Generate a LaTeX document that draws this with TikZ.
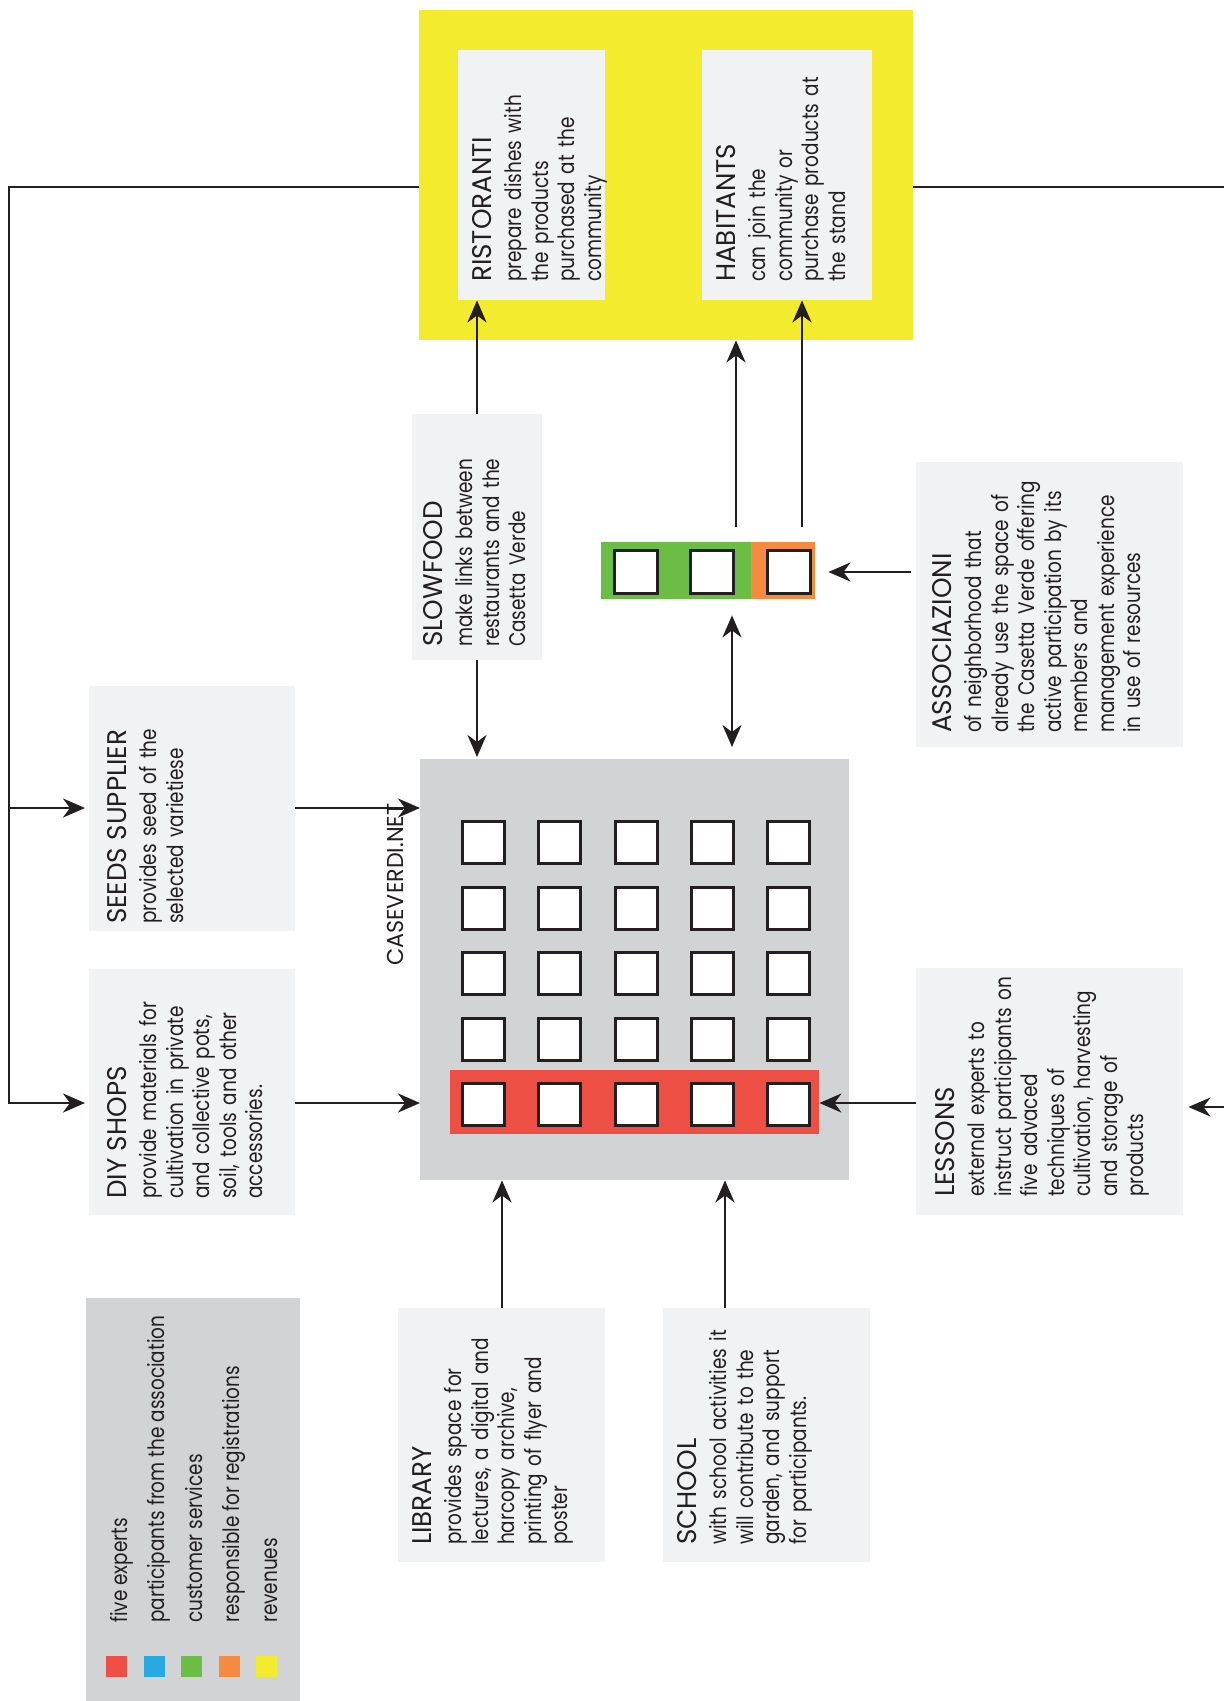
\documentclass[tikz,border=0pt]{standalone}
\usepackage{fontspec}
\setmainfont{Poppins}[FakeStretch=0.82]
\newfontfamily\headfam{Poppins}[FakeStretch=0.97]
\usetikzlibrary{arrows.meta}

\definecolor{panel}{HTML}{F1F2F3}
\definecolor{hubgrey}{HTML}{D1D3D4}
\definecolor{revyellow}{HTML}{F3EB2E}
\definecolor{expred}{HTML}{EE4F45}
\definecolor{assblue}{HTML}{27AAE1}
\definecolor{custgreen}{HTML}{6CBD45}
\definecolor{regorange}{HTML}{F58B3F}
\definecolor{ink}{HTML}{231F20}

\newcommand\hdfont{\headfam\fontsize{27}{30}\selectfont}
\newcommand\bdfont{\fontsize{22.5}{26.5}\selectfont}

\tikzset{
  area/.style={fill=#1, draw=none, inner sep=0pt, anchor=north west},
  panelbox/.style={area=panel},
  label/.style={rotate=90, anchor=north west, align=left, inner sep=0pt,
    text width=#1, font=\bdfont, text=ink},
  label/.default=300pt,
  cell/.style={draw=ink, line width=3pt, fill=white, inner sep=0pt,
    minimum width=40pt, minimum height=40pt, anchor=north west},
  swatch/.style={fill=#1, draw=none, inner sep=0pt, minimum width=21pt,
    minimum height=21pt, anchor=north west},
  arr/.style={draw=ink, line width=2.6pt,
    -{Stealth[length=22pt, width=19pt, inset=7pt]}},
  biarr/.style={draw=ink, line width=2.6pt,
    {Stealth[length=22pt, width=19pt, inset=7pt]}-{Stealth[length=22pt, width=19pt, inset=7pt]}},
  wire/.style={draw=ink, line width=2.6pt},
}

\begin{document}
\begin{tikzpicture}[x=1pt, y=1pt]
\fill[white] (0,0) rectangle (1224,-1701);
\useasboundingbox (0,0) rectangle (1224,-1701);

% ---- revenue block with restaurants and inhabitants
\node[area=revyellow, minimum width=494pt, minimum height=330pt] (yellow) at (419,-10) {};
\node[panelbox, minimum width=147pt, minimum height=250pt] (rist) at (458,-50) {};
\node[label] (ristT) at (472,-282) {{\hdfont RISTORANTI}\\[4pt]prepare dishes with\\the products\\purchased at the\\community};
\node[panelbox, minimum width=170pt, minimum height=250pt] (hab) at (702,-50) {};
\node[label] (habT) at (716,-282) {{\hdfont HABITANTS}\\[4pt]can join the\\community or\\purchase products at\\the stand};

% ---- slow food
\node[panelbox, minimum width=130pt, minimum height=246pt] (slow) at (412,-414) {};
\node[label] (slowT) at (423,-647) {{\hdfont SLOWFOOD}\\[4pt]make links between\\restaurants and the\\Casetta Verde};

% ---- customer services / registrations strip
\node[area=custgreen, minimum width=214pt, minimum height=57pt] (strip) at (601,-542) {};
\node[area=regorange, minimum width=64pt, minimum height=57pt] (regs) at (751,-542) {};
\node[cell, minimum width=43pt, minimum height=43pt] (s1) at (613,-549) {};
\node[cell, minimum width=43pt, minimum height=43pt] (s2) at (689,-549) {};
\node[cell, minimum width=43pt, minimum height=43pt] (s3) at (766,-549) {};

% ---- associations
\node[panelbox, minimum width=267pt, minimum height=285pt] (assoc) at (916,-462) {};
\node[label] (assocT) at (932,-733) {{\hdfont ASSOCIAZIONI}\\[4pt]of neighborhood that\\already use the space of\\the Casetta Verde offering\\active participation by its\\members and\\management experience\\in use of resources};

% ---- suppliers
\node[panelbox, minimum width=206pt, minimum height=245pt] (seeds) at (89,-686) {};
\node[label] (seedsT) at (107,-924) {{\hdfont SEEDS SUPPLIER}\\[4pt]provides seed of the\\selected varietiese};
\node[panelbox, minimum width=206pt, minimum height=246pt] (diy) at (89,-969) {};
\node[label] (diyT) at (107,-1199) {{\hdfont DIY SHOPS}\\[4pt]provide materials for\\cultivation in private\\and collective pots,\\soil, tools and other\\accessories.};

% ---- central garden
\node[area=hubgrey, minimum width=429pt, minimum height=421pt] (hub) at (420,-759) {};
\node[rotate=90, anchor=north west, inner sep=0pt, font=\headfam\fontsize{23}{26}\selectfont, text=ink] (hubT) at (387,-966) {CASEVERDI.NET};
\node[area=expred, minimum width=369pt, minimum height=64pt] (experts) at (450,-1070) {};
\foreach \r [count=\i] in {820,885.5,951,1016.5,1082}{
  \foreach \c [count=\j] in {461,537.25,613.5,689.75,766}{
    \node[cell, minimum width=42pt, minimum height=42pt] (g-\i-\j) at (\c,-\r) {};
  }
}

% ---- lessons
\node[panelbox, minimum width=267pt, minimum height=247pt] (lessons) at (916,-968) {};
\node[label] (lessonsT) at (935,-1197) {{\hdfont LESSONS}\\[4pt]external experts to\\instruct participants on\\five advaced\\techniques of\\cultivation, harvesting\\and storage of\\products};

% ---- library and school
\node[panelbox, minimum width=207pt, minimum height=254pt] (lib) at (398,-1308) {};
\node[label] (libT) at (412,-1545) {{\hdfont LIBRARY}\\[4pt]provides space for\\lectures, a digital and\\harcopy archive,\\printing of flyer and\\poster};
\node[panelbox, minimum width=207pt, minimum height=254pt] (school) at (663,-1308) {};
\node[label] (schoolT) at (677,-1545) {{\hdfont SCHOOL}\\[4pt]with school activities it\\will contribute to the\\garden, and support\\for participants.};

% ---- legend
\node[area=hubgrey, minimum width=214pt, minimum height=410pt] (legend) at (86,-1298) {};
\foreach \col/\txt [count=\k from 0] in {expred/five experts,
    assblue/participants from the association,
    custgreen/customer services,
    regorange/responsible for registrations,
    revyellow/revenues}{
  \node[swatch=\col] (sw\k) at ({106+37.5*\k},-1656) {};
  \node[rotate=90, anchor=base west, inner sep=0pt, font=\bdfont, text=ink] (lg\k) at ({127+37.5*\k},-1623) {\txt};
}

% ---- reference rows and columns for the connectors
\coordinate (rowTop) at (0,-187);
\coordinate (rowA) at (0,-808);
\coordinate (rowB) at (0,-1103);
\coordinate (rowLoop) at (0,-1107);
\coordinate (rowAssoc) at (0,-572);
\coordinate (colL) at (9,0);
\coordinate (colR) at (1234,0);
\coordinate (colRist) at (477,0);
\coordinate (colHab) at (802,0);
\coordinate (colYel) at (736,0);
\coordinate (colBi) at (732,0);
\coordinate (colLib) at (502,0);
\coordinate (colSch) at (725,0);

% ---- connectors
\draw[arr, shorten >=4pt] (yellow.west |- rowTop) -| (colL |- rowB) -- (diy.west |- rowB);
\draw[arr, shorten >=4pt] (colL |- rowA) -- (seeds.west |- rowA);
\draw[arr] (seeds.east |- rowA) -- (hub.west |- rowA);
\draw[arr] (diy.east |- rowB) -- (hub.west |- rowB);
\draw[arr] (slow.north -| colRist) -- (rist.south -| colRist);
\draw[arr, shorten >=2pt] (slow.south -| colRist) -- (hub.north -| colRist);
\draw[biarr, shorten <=16pt, shorten >=12pt] (strip.south -| colBi) -- (hub.north -| colBi);
\draw[arr, shorten <=15pt] (strip.north -| colYel) -- (yellow.south -| colYel);
\draw[arr, shorten <=15pt] (strip.north -| colHab) -- (hab.south -| colHab);
\draw[arr, shorten <=5pt, shorten >=13pt] (assoc.west |- rowAssoc) -- (strip.east |- rowAssoc);
\draw[arr] (lessons.west |- rowB) -- (experts.east |- rowB);
\draw[arr, shorten >=5pt] (yellow.east |- rowTop) -- (colR |- rowTop) -- (colR |- rowLoop) -- (lessons.east |- rowLoop);
\draw[arr] (lib.north -| colLib) -- (hub.south -| colLib);
\draw[arr] (school.north -| colSch) -- (hub.south -| colSch);
\end{tikzpicture}
\end{document}
